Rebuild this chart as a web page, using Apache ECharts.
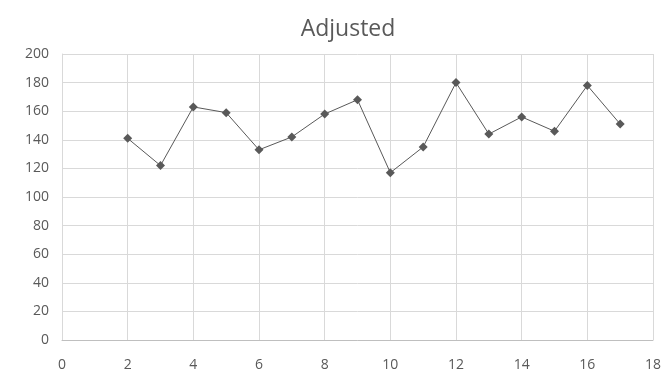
<!DOCTYPE html>
<html><head><meta charset="utf-8">
<script src="https://cdn.jsdelivr.net/npm/echarts@6/dist/echarts.min.js"></script>
<style>html,body{margin:0;padding:0;background:#fff}#c{width:664px;height:374px}</style>
</head><body><div id="c"></div>
<script>
const titleText = "Adjusted";
const xValues = [2,3,4,5,6,7,8,9,10,11,12,13,14,15,16,17];
const yValues = [141,122,163,159,133,142,158,168,117,135,180,144,156,146,178,151];

const chart = echarts.init(document.getElementById('c'), null, {renderer:'canvas'});
const font = '"Open Sans", "Noto Sans", sans-serif';
chart.setOption({
  animation:false,
  backgroundColor:'#fff',
  title:{text:titleText,left:343,top:13,textAlign:'center',
    textStyle:{fontFamily:font,fontSize:23,fontWeight:'normal',color:'#595959'}},
  grid:{left:62,right:8,top:54,bottom:34},
  xAxis:{type:'value',min:0,max:18,interval:2,
    axisLine:{show:true,lineStyle:{color:'#bfbfbf'}},axisTick:{show:false},
    axisLabel:{margin:18,fontFamily:font,fontSize:14,color:'#595959',showMaxLabel:true,showMinLabel:true},
    splitLine:{show:true,lineStyle:{color:'#d9d9d9'}}},
  yAxis:{type:'value',min:0,max:200,interval:20,
    axisLine:{show:true,lineStyle:{color:'#d9d9d9'}},axisTick:{show:false},
    axisLabel:{margin:13,fontFamily:font,fontSize:14,color:'#595959'},
    splitLine:{show:true,lineStyle:{color:'#d9d9d9'}}},
  series:[{type:'line',data:xValues.map((x,i)=>[x,yValues[i]]),
    symbol:'diamond',symbolSize:9,
    lineStyle:{color:'#595959',width:1},
    itemStyle:{color:'#595959'}}]
});
</script></body></html>
